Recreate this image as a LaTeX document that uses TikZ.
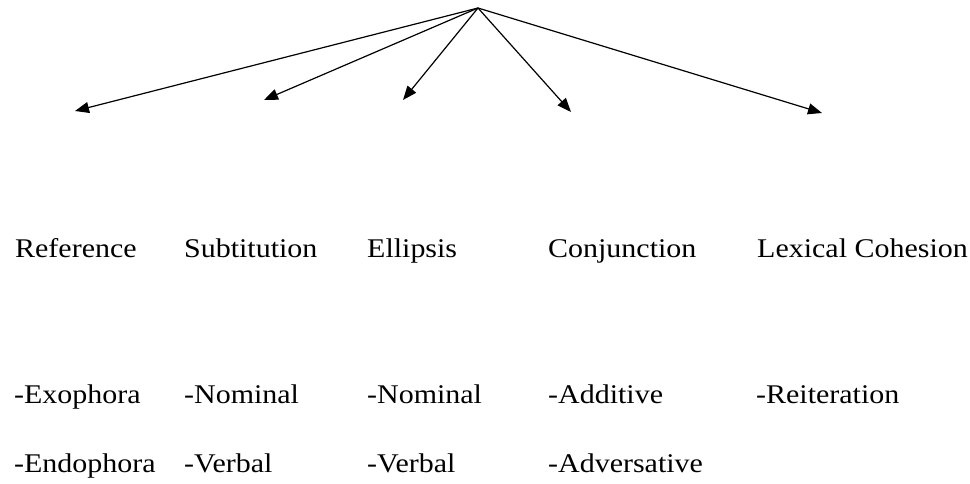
\documentclass[tikz,border=0pt]{standalone}
\usepackage{fontspec}
\setmainfont{Liberation Serif}
\usetikzlibrary{arrows.meta}
\tikzset{
  lbl/.style={anchor=base west, inner sep=0pt, font=\fontsize{27}{32}\selectfont},
  branch/.style={line width=1.2pt, -{Triangle[length=14pt,width=11pt]}}
}
\newcommand{\wtext}[1]{\scalebox{1.11}[1]{#1}}
\begin{document}
\begin{tikzpicture}[x=1pt,y=-1pt]
\useasboundingbox (0,0) rectangle (970,484);
\coordinate (top) at (478,8);
\coordinate (t1) at (75,111);
\coordinate (t2) at (264,100);
\coordinate (t3) at (403,100);
\coordinate (t4) at (571,112);
\coordinate (t5) at (822,113);
\foreach \t in {t1,t2,t3,t4,t5} \draw[branch] (top) -- (\t);

\node[lbl] (ref) at (15,257) {\wtext{Reference}};
\node[lbl] (sub) at (184,257) {\wtext{Subtitution}};
\node[lbl] (ell) at (367,257) {\wtext{Ellipsis}};
\node[lbl] (con) at (548,257) {\wtext{Conjunction}};
\node[lbl] (lex) at (757,257) {\wtext{Lexical Cohesion}};

\node[lbl] (exo) at (14,403) {\wtext{-Exophora}};
\node[lbl] (nom1) at (184,403) {\wtext{-Nominal}};
\node[lbl] (nom2) at (367,403) {\wtext{-Nominal}};
\node[lbl] (add) at (548,403) {\wtext{-Additive}};
\node[lbl] (rei) at (756,403) {\wtext{-Reiteration}};

\node[lbl] (endo) at (14,472) {\wtext{-Endophora}};
\node[lbl] (verb1) at (184,472) {\wtext{-Verbal}};
\node[lbl] (verb2) at (367,472) {\wtext{-Verbal}};
\node[lbl] (adv) at (548,472) {\wtext{-Adversative}};
\end{tikzpicture}
\end{document}
